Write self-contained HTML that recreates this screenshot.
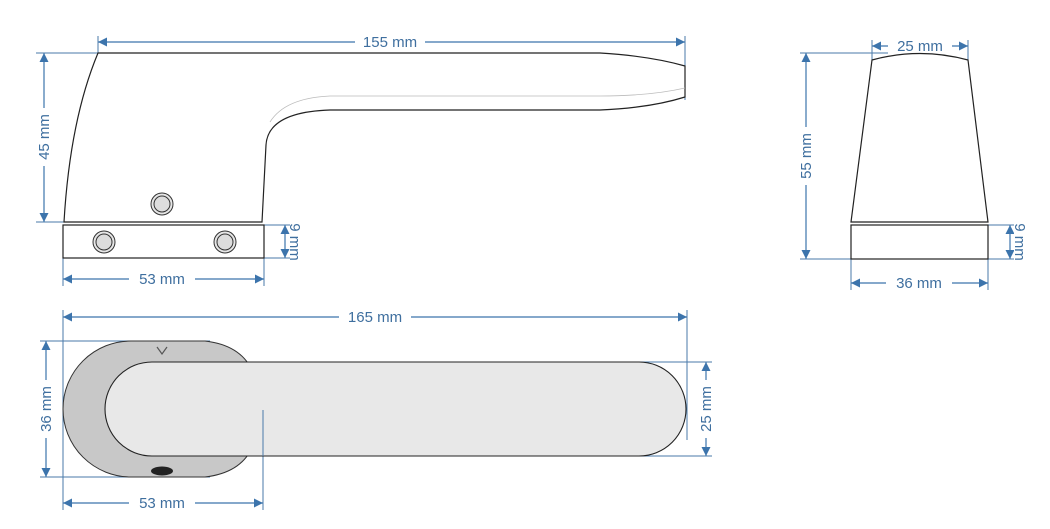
<!DOCTYPE html>
<html><head><meta charset="utf-8"><style>
html,body{margin:0;padding:0;background:#fff;width:1050px;height:529px;overflow:hidden}
svg text{font-family:"Liberation Sans",sans-serif;font-size:15px;fill:#3f6f9f}
</style></head><body>
<svg width="1050" height="529" viewBox="0 0 1050 529" xmlns="http://www.w3.org/2000/svg">
<defs>
<marker id="a" viewBox="0 0 10 10" refX="10" refY="5" markerWidth="16" markerHeight="9" markerUnits="userSpaceOnUse" orient="auto-start-reverse"><path d="M0,0 L10,5 L0,10z" fill="#3c74ac"/></marker>
</defs>
<g fill="none" stroke="#4a7aaa" stroke-width="1">
<path d="M98,36V53 M685,36V100 M36,53H100 M36,222H66 M264,225H292 M264,258H292 M63,258V286 M264,258V286"/>
<path d="M872,40V62 M968,40V62 M800,53H920 M800,259H851 M988,225H1016 M988,259H1016 M851,259V290 M988,259V290"/>
<path d="M63,310V510 M687,310V440 M40,341H210 M40,477H210 M560,362H712 M560,456H712 M263,410V510"/>
</g>
<g stroke="#3c74ac" stroke-width="1.2" fill="none" marker-start="url(#a)" marker-end="url(#a)">
<path d="M98,42H685"/><path d="M44,53V222"/><path d="M285,225V258"/><path d="M63,279H264"/>
<path d="M872,46H968"/><path d="M806,53V259"/><path d="M1010,225V259"/><path d="M851,283H988"/>
<path d="M63,317H687"/><path d="M46,341V477"/><path d="M706,362V456"/><path d="M63,503H263"/>
</g>
<g>
<rect x="355" y="34" width="70" height="16" fill="#fff"/><text x="390" y="47" text-anchor="middle">155 mm</text>
<rect x="36" y="108" width="16" height="58" fill="#fff"/><text transform="translate(49,137) rotate(-90)" text-anchor="middle">45 mm</text>
<rect x="290" y="220" width="16" height="44" fill="#fff"/><text transform="translate(290,242) rotate(90)" text-anchor="middle">9 mm</text>
<rect x="129" y="271" width="66" height="16" fill="#fff"/><text x="162" y="284" text-anchor="middle">53 mm</text>
<rect x="888" y="38" width="64" height="16" fill="#fff"/><text x="920" y="51" text-anchor="middle">25 mm</text>
<rect x="798" y="127" width="16" height="58" fill="#fff"/><text transform="translate(811,156) rotate(-90)" text-anchor="middle">55 mm</text>
<rect x="1014" y="220" width="16" height="44" fill="#fff"/><text transform="translate(1015,242) rotate(90)" text-anchor="middle">9 mm</text>
<rect x="886" y="275" width="66" height="16" fill="#fff"/><text x="919" y="288" text-anchor="middle">36 mm</text>
<rect x="339" y="309" width="72" height="16" fill="#fff"/><text x="375" y="322" text-anchor="middle">165 mm</text>
<rect x="38" y="380" width="16" height="58" fill="#fff"/><text transform="translate(51,409) rotate(-90)" text-anchor="middle">36 mm</text>
<rect x="698" y="380" width="16" height="58" fill="#fff"/><text transform="translate(711,409) rotate(-90)" text-anchor="middle">25 mm</text>
<rect x="129" y="495" width="66" height="16" fill="#fff"/><text x="162" y="508" text-anchor="middle">53 mm</text>
</g>
<g stroke="#222" stroke-width="1.2" fill="#fff">
<path d="M98,53 H600 Q650,56 685,66 V97 Q650,108 600,110 H330 Q268,112 266,145 L262,222 H64 Q70,120 98,53 Z"/>
<path d="M270,122 Q285,98 330,96 H600 Q650,96 685,88" stroke="#bbb" stroke-width="0.8" fill="none"/>
<rect x="63" y="225" width="201" height="33"/>
</g>
<g stroke="#333" fill="#e6e6e6" stroke-width="1">
<circle cx="104" cy="242" r="11"/><circle cx="104" cy="242" r="8" fill="#ddd"/>
<circle cx="225" cy="242" r="11"/><circle cx="225" cy="242" r="8" fill="#ddd"/>
<circle cx="162" cy="204" r="11"/><circle cx="162" cy="204" r="8" fill="#ddd"/>
</g>
<g stroke="#222" stroke-width="1.2" fill="#fff">
<path d="M872,60 Q920,47 968,60 L988,222 H851 Z"/>
<rect x="851" y="225" width="137" height="34"/>
</g>
<path d="M131,341 H205 Q240,345 252,370 V448 Q240,473 205,477 H131 A68,68 0 0 1 131,341 Z" fill="#c8c8c8" stroke="#333" stroke-width="1"/>
<rect x="105" y="362" width="581" height="94" rx="47" fill="#e8e8e8" stroke="#222" stroke-width="1.1"/>
<path d="M263,410V456" stroke="#4a7aaa" stroke-width="1"/>
<path d="M157,347 L162,354 L167,347" stroke="#555" stroke-width="1.2" fill="none"/>
<ellipse cx="162" cy="471" rx="11" ry="4.5" fill="#222"/>
</svg>
</body></html>
